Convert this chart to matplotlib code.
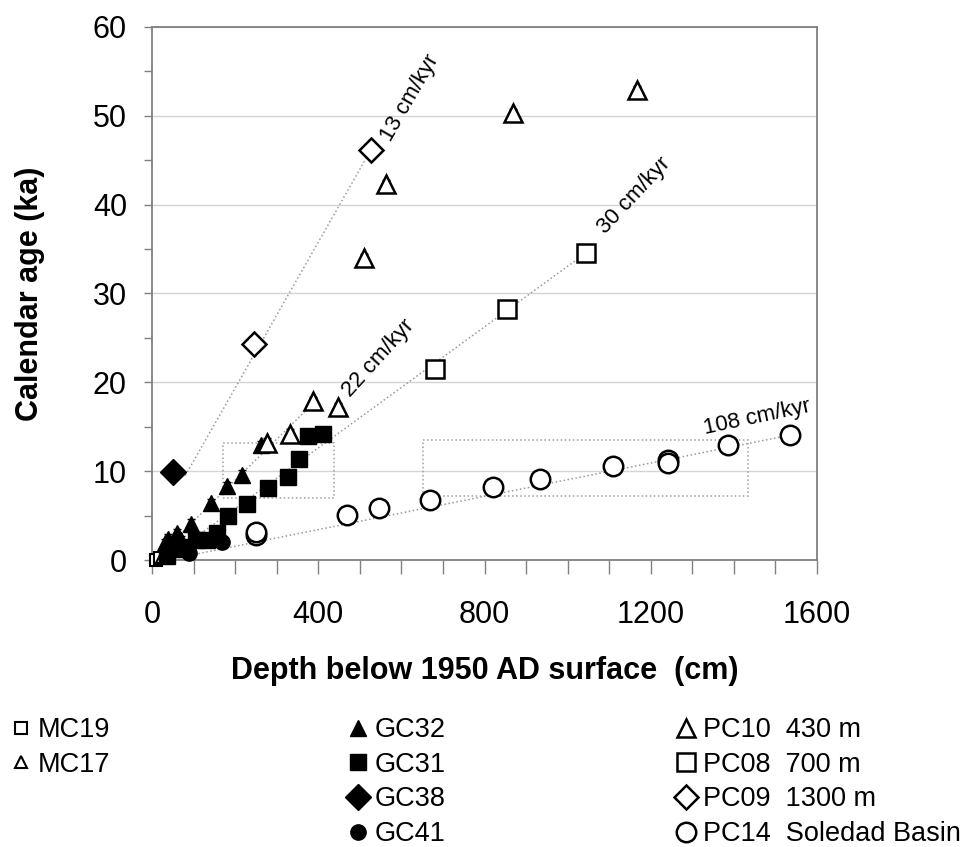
import matplotlib
matplotlib.use("Agg")
import matplotlib.pyplot as plt
from matplotlib.patches import Rectangle
from matplotlib.ticker import MultipleLocator
import numpy as np

plt.rcParams['font.family'] = ['Liberation Sans', 'DejaVu Sans']

# depth (cm), calendar age (ka)
mc19_x = [10, 20]
mc19_y = [0.0, 0.2]
mc17_x = [25, 35]
mc17_y = [0.3, 0.6]

gc32_x = [31, 39, 59, 70, 95, 141, 181, 216, 262]
gc32_y = [1.9, 2.4, 3.0, 2.2, 4.1, 6.4, 8.3, 9.6, 12.9]
gc31_x = [35, 60, 79, 107, 132, 156, 184, 229, 278, 328, 353, 376, 412]
gc31_y = [0.5, 1.2, 1.5, 2.25, 2.3, 3.0, 4.9, 6.3, 8.1, 9.3, 11.4, 14.0, 14.2]
gc38_x = [51]
gc38_y = [9.9]
gc41_x = [90, 168]
gc41_y = [0.8, 2.0]

pc10_x = [276, 332, 388, 448, 510, 563, 869, 1167]
pc10_y = [13.2, 14.2, 17.9, 17.2, 34.0, 42.3, 50.3, 52.9]
pc08_x = [680, 855, 1045]
pc08_y = [21.5, 28.2, 34.6]
pc09_x = [245, 527]
pc09_y = [24.3, 46.2]
pc14_x = [250, 250, 470, 545, 669, 821, 934, 1108, 1241, 1241, 1387, 1535]
pc14_y = [2.8, 3.2, 5.1, 5.8, 6.7, 8.2, 9.1, 10.6, 11.3, 10.9, 13.0, 14.1]

# sedimentation rate lines (end points) and their labels
rate_labels = ["13 cm/kyr", "22 cm/kyr", "30 cm/kyr", "108 cm/kyr"]
rate_x0 = [80, 5, 30, 35]
rate_y0 = [9.5, 0, 0, 0]
rate_x1 = [527, 400, 1045, 1540]
rate_y1 = [46.2, 18.2, 34.6, 14.1]
label_x = [620, 545, 1160, 1455]
label_y = [52.0, 22.7, 41.0, 16.0]
label_rot = [60, 48, 47, 12]

# dotted boxes: x0, x1, y0, y1
box_x0 = [170, 652]
box_x1 = [437, 1434]
box_y0 = [7.0, 7.2]
box_y1 = [13.2, 13.5]

fig = plt.figure(figsize=(9.69, 8.47), dpi=100)
ax = fig.add_axes([152/969, 1-560/847, 665/969, 533/847])

ax.yaxis.grid(True, color='#d4d4d4', lw=1)
ax.set_axisbelow(True)

for x0, y0, x1, y1 in zip(rate_x0, rate_y0, rate_x1, rate_y1):
    ax.plot([x0, x1], [y0, y1], ls=':', color='#9a9a9a', lw=1.1, zorder=1)
for t, lx, ly, r in zip(rate_labels, label_x, label_y, label_rot):
    ax.text(lx, ly, t, rotation=r, ha='center', va='center', fontsize=16)
for x0, x1, y0, y1 in zip(box_x0, box_x1, box_y0, box_y1):
    ax.add_patch(Rectangle((x0, y0), x1-x0, y1-y0, fill=False, ls=':', ec='#a0a0a0', lw=1.1, zorder=1))

kw = dict(ls='none', clip_on=False, zorder=3)
h_mc19, = ax.plot(mc19_x, mc19_y, marker='s', ms=8, mfc='white', mec='black', mew=1.5, label='MC19', **kw)
h_mc17, = ax.plot(mc17_x, mc17_y, marker='^', ms=8, mfc='white', mec='black', mew=1.5, label='MC17', **kw)
ax.errorbar(gc32_x, gc32_y, yerr=0.5, fmt='none', ecolor='black', elinewidth=1, capsize=3, zorder=2)
h_gc32, = ax.plot(gc32_x, gc32_y, marker='^', ms=12, mfc='black', mec='black', label='GC32', **kw)
h_gc31, = ax.plot(gc31_x, gc31_y, marker='s', ms=12, mfc='black', mec='black', label='GC31', **kw)
h_gc38, = ax.plot(gc38_x, gc38_y, marker='D', ms=13, mfc='black', mec='black', label='GC38', **kw)
h_gc41, = ax.plot(gc41_x, gc41_y, marker='o', ms=11, mfc='black', mec='black', label='GC41', **kw)
ax.errorbar(pc10_x, pc10_y, yerr=0.5, fmt='none', ecolor='black', elinewidth=1, capsize=3, zorder=2)
h_pc10, = ax.plot(pc10_x, pc10_y, marker='^', ms=13, mfc='white', mec='black', mew=1.8, label='PC10  430 m', **kw)
h_pc08, = ax.plot(pc08_x, pc08_y, marker='s', ms=13, mfc='white', mec='black', mew=1.8, label='PC08  700 m', **kw)
h_pc09, = ax.plot(pc09_x, pc09_y, marker='D', ms=12, mfc='white', mec='black', mew=1.8, label='PC09  1300 m', **kw)
h_pc14, = ax.plot(pc14_x, pc14_y, marker='o', ms=14, mfc='white', mec='black', mew=1.8, label='PC14  Soledad Basin', **kw)

ax.set_xlim(0, 1600)
ax.set_ylim(0, 60)
ax.xaxis.set_major_locator(MultipleLocator(400))
ax.xaxis.set_minor_locator(MultipleLocator(100))
ax.yaxis.set_major_locator(MultipleLocator(10))
ax.yaxis.set_minor_locator(MultipleLocator(5))
ax.tick_params(which='both', direction='out', color='#808080', width=1)
ax.tick_params(axis='x', which='both', length=10)
ax.tick_params(axis='y', which='both', length=6)
ax.tick_params(which='major', labelsize=22)
ax.tick_params(axis='x', pad=19)
ax.tick_params(axis='y', pad=12)
for s in ax.spines.values():
    s.set_color('#808080')
    s.set_linewidth(1.3)

fig.text(485/969, 1-671/847, "Depth below 1950 AD surface  (cm)", fontsize=22, fontweight='bold',
         ha='center', va='center')
fig.text(30/969, 1-(27+560)/2/847, "Calendar age (ka)", fontsize=22, fontweight='bold',
         ha='center', va='center', rotation=90)

legkw = dict(loc='upper left', frameon=False, fontsize=19.5, handlelength=0.7,
             handletextpad=0.25, labelspacing=0.32, borderpad=0, borderaxespad=0)
leg1 = fig.legend(handles=[h_mc19, h_mc17], bbox_to_anchor=(12/969, 1-717/847), **legkw)
leg2 = fig.legend(handles=[h_gc32, h_gc31, h_gc38, h_gc41], bbox_to_anchor=(349/969, 1-717/847), **legkw)
leg3 = fig.legend(handles=[h_pc10, h_pc08, h_pc09, h_pc14], bbox_to_anchor=(677/969, 1-717/847), **legkw)

fig.savefig("out.png", dpi=100)
